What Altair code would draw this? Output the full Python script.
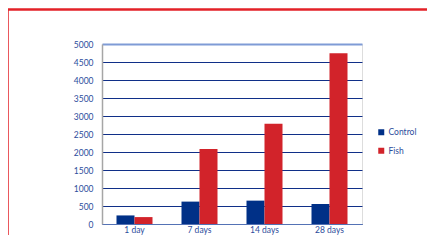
import altair as alt
import pandas as pd

categories = ["1 day", "7 days", "14 days", "28 days"]
series = ["Control", "Fish"]
control = [238, 622, 649, 556]
fish = [192, 2082, 2786, 4740]
colors = ["#003087", "#d2232a"]
y_ticks = list(range(0, 5001, 500))

rows = []
for c, a, b in zip(categories, control, fish):
    rows.append({"day": c, "series": "Control", "value": a})
    rows.append({"day": c, "series": "Fish", "value": b})
df = pd.DataFrame(rows)

FONT = "Lato"
TXT = "#2c4c9c"

bars = alt.Chart(df).mark_bar().encode(
    x=alt.X(
        "day:N",
        sort=categories,
        scale=alt.Scale(paddingInner=0.446, paddingOuter=0.223),
        axis=alt.Axis(
            title=None, labelAngle=0, ticks=False, domainColor="#5472b5",
            domainWidth=1.2, labelPadding=1, labelColor=TXT, labelFont=FONT,
            labelFontSize=8.5,
        ),
    ),
    xOffset=alt.XOffset("series:N", sort=series,
                        scale=alt.Scale(paddingInner=0, paddingOuter=0)),
    y=alt.Y(
        "value:Q",
        scale=alt.Scale(domain=[0, 5000], nice=False),
        axis=alt.Axis(
            values=y_ticks, format="d", title=None, grid=True,
            gridColor=alt.condition("datum.value == 5000", alt.value("#7f9bd6"), alt.value("#102f88")),
            gridWidth=alt.condition("datum.value == 5000", alt.value(2), alt.value(1)),
            domainColor="#a6a6a6", domainWidth=1.5, ticks=False,
            labelPadding=9, labelColor=TXT, labelFont=FONT, labelFontSize=8.5,
        ),
    ),
    color=alt.Color(
        "series:N",
        scale=alt.Scale(domain=series, range=colors),
        legend=alt.Legend(
            title=None, orient="none", legendX=275, legendY=84, symbolType="square",
            symbolSize=36, symbolStrokeWidth=0, labelFontSize=8.5, labelFont=FONT,
            labelColor=TXT, rowPadding=9.5, labelOffset=3, padding=0,
        ),
    ),
)

frame = alt.Chart(pd.DataFrame({"a": [0]})).mark_rect(
    fillOpacity=0, stroke="#e32228", strokeWidth=2.5, clip=False
).encode(
    x=alt.value(-94.5), x2=alt.value(700), y=alt.value(-34.5), y2=alt.value(400)
)

chart = alt.layer(frame, bars).properties(
    width=260, height=180,
    autosize=alt.AutoSizeParams(type="none"),
    padding={"left": 94, "top": 36, "right": 65, "bottom": 11},
).configure_view(stroke=None).configure(background="white")

chart.save("out.html", embed_options={"renderer": "svg", "actions": False})
